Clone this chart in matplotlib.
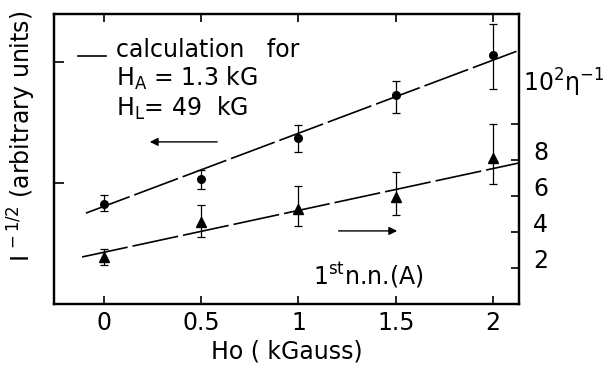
import matplotlib
matplotlib.use('Agg')
import matplotlib.pyplot as plt
import numpy as np

# field values (kGauss)
ho = [0, 0.5, 1, 1.5, 2]

# intensity data (left axis, arbitrary units) with error bar ends
circ = [0.826, 1.033, 1.372, 1.727, 2.058]
circ_lo = [0.769, 0.950, 1.256, 1.579, 1.777]
circ_hi = [0.901, 1.107, 1.479, 1.843, 2.314]

# 10^2 eta^-1 data (right axis) with error bar ends
tri = [2.61, 4.56, 5.28, 5.94, 8.11]
tri_lo = [2.17, 3.72, 4.33, 4.94, 6.67]
tri_hi = [3.06, 5.50, 6.56, 7.33, 10.0]

# calculated lines (end points)
calc_x_circ = [-0.093, 2.134]
calc_circ = [0.752, 2.099]
calc_x_tri = [-0.113, 2.134]
calc_tri = [2.61, 7.83]

xticks = [0, 0.5, 1, 1.5, 2]
xticklabels = ['0', '0.5', '1', '1.5', '2']
rticks = [2, 4, 6, 8, 10]
rticklabels = ['2', '4', '6', '8', '']

plt.rcParams['font.family'] = ['DejaVu Sans']
plt.rcParams['mathtext.fontset'] = 'dejavusans'
fs = 17

fig = plt.figure(figsize=(6.05, 3.69), dpi=100)
ax = fig.add_axes([54/605, 65/369, 465/605, 290/369])
ax2 = ax.twinx()

dash = (0, (28, 3))
ax.plot(calc_x_circ, calc_circ, color='k', lw=1.2, ls=dash)
ax2.plot(calc_x_tri, calc_tri, color='k', lw=1.2, ls=dash)

c = np.array(circ)
ax.errorbar(ho, circ, yerr=[c - np.array(circ_lo), np.array(circ_hi) - c],
            fmt='o', ms=5.5, color='k', ecolor='k', elinewidth=0.9,
            capsize=3, capthick=0.9)
t = np.array(tri)
ax2.errorbar(ho, tri, yerr=[t - np.array(tri_lo), np.array(tri_hi) - t],
             fmt='^', ms=7, color='k', ecolor='k', elinewidth=0.9,
             capsize=3, capthick=0.9)

ax.set_xlim(-0.257, 2.134)
ax.set_ylim(0.0, 2.4)
ax2.set_ylim(0, 16.1)

ax.set_xticks(xticks)
ax.set_xticklabels(xticklabels)
ax.set_yticks([1, 2])
ax.set_yticklabels([])
ax2.set_yticks(rticks)
ax2.set_yticklabels(rticklabels)

ax.tick_params(axis='x', direction='in', top=True, length=6, width=1.2,
               labelsize=fs, pad=5)
ax.tick_params(axis='y', direction='in', length=7, width=1.2)
ax2.tick_params(axis='y', direction='in', length=6, width=1.2,
                labelsize=fs, pad=10)
for lab in ax2.get_yticklabels():
    lab.set_verticalalignment('baseline')

for a in (ax, ax2):
    for s in a.spines.values():
        s.set_linewidth(1.6)

ax.set_xlabel('Ho ( kGauss)', fontsize=fs, labelpad=3)
fig.text(22/605, 0.63, r'$\mathregular{I^{\,-1/2}}$ (arbitrary units)',
         rotation=90, fontsize=fs, ha='center', va='center')

# legend / annotations
ax.plot([0.052, 0.112], [0.855, 0.855], color='k', lw=1.2,
        transform=ax.transAxes)
ax.text(0.133, 0.852, 'calculation   for', transform=ax.transAxes,
        fontsize=fs, va='baseline')
ax.text(0.133, 0.752, r'$\mathregular{H_A}$ = 1.3 kG', transform=ax.transAxes,
        fontsize=fs, va='baseline')
ax.text(0.133, 0.648, r'$\mathregular{H_L}$= 49  kG', transform=ax.transAxes,
        fontsize=fs, va='baseline')
ax.annotate('', xy=(0.2, 0.559), xytext=(0.357, 0.559),
            xycoords='axes fraction',
            arrowprops=dict(arrowstyle='-|>', color='k', lw=1, mutation_scale=12))
ax.annotate('', xy=(0.744, 0.252), xytext=(0.606, 0.252),
            xycoords='axes fraction',
            arrowprops=dict(arrowstyle='-|>', color='k', lw=1, mutation_scale=12))
ax.text(0.557, 0.066, r'1$\mathregular{^{st}}$n.n.(A)', transform=ax.transAxes,
        fontsize=fs, va='baseline')
ax.text(1.009, 0.731, r'10$\mathregular{^{2}}$η$\mathregular{^{-1}}$',
        transform=ax.transAxes, fontsize=fs, va='baseline')

fig.savefig('out.png', dpi=100)
